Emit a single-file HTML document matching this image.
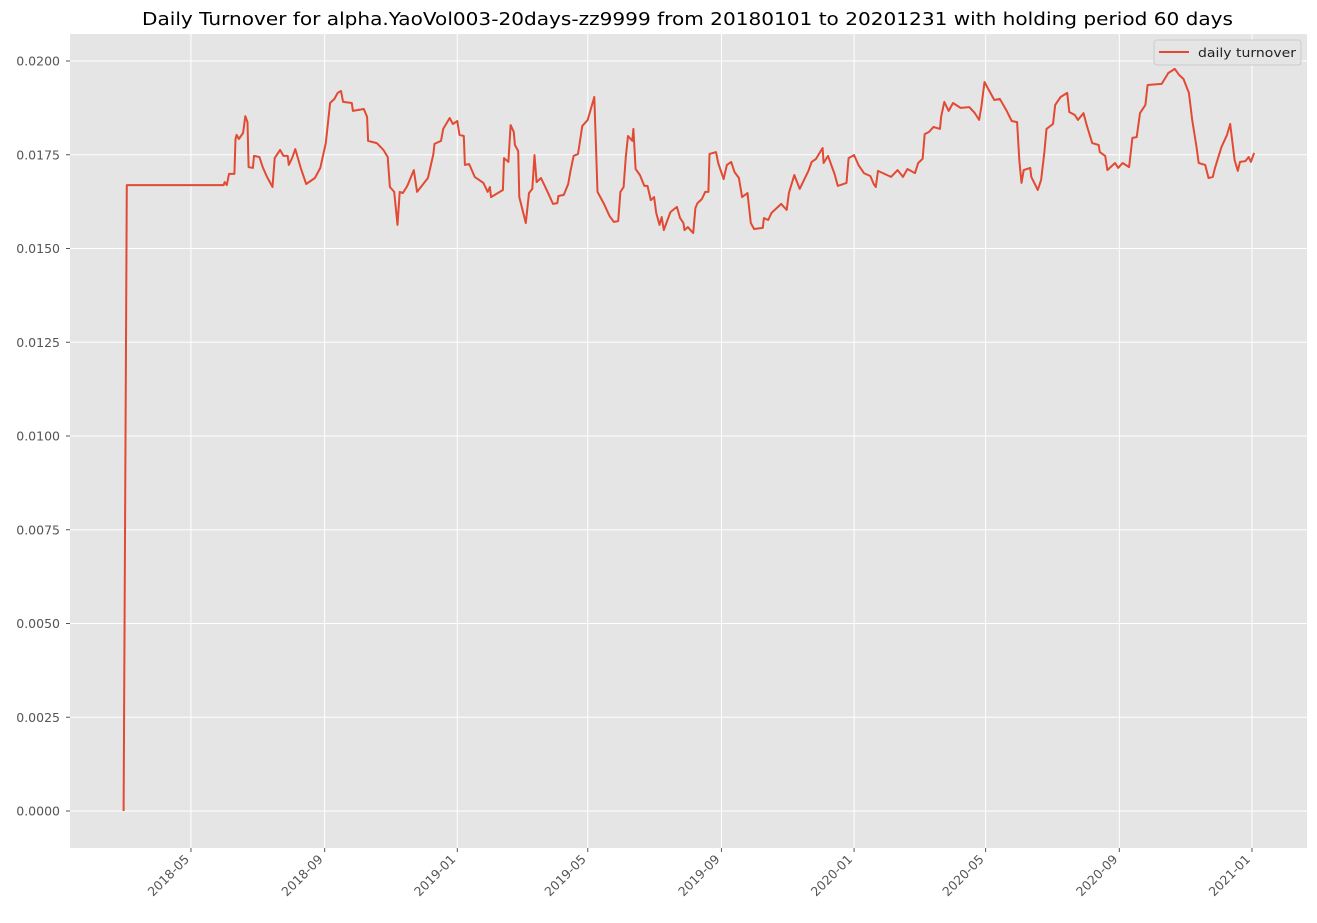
<!DOCTYPE html>
<html><head><meta charset="utf-8"><style>
body{margin:0;background:#fff;font-family:"DejaVu Sans","Liberation Sans",sans-serif}
</style></head><body>
<svg id="chart" width="1317" height="919" xmlns="http://www.w3.org/2000/svg" font-family="DejaVu Sans, Liberation Sans, sans-serif"></svg>
<script>
const yTicks=[0,0.0025,0.005,0.0075,0.01,0.0125,0.015,0.0175,0.02];
const yTickLabels=["0.0000","0.0025","0.0050","0.0075","0.0100","0.0125","0.0150","0.0175","0.0200"];
const xTickDays=[120,243,365,485,608,730,851,974,1096];
const xTickLabels=["2018-05","2018-09","2019-01","2019-05","2019-09","2020-01","2020-05","2020-09","2021-01"];
const days=[58,61,150,151,153,155,160,161,162,164,168,170,172,173,177,178,183,186,190,195,197,202,205,209,210,213,216,221,226,234,239,242,244,248,252,255,258,260,268,269,279,282,283,291,297,301,303,307,310,312,315,319,325,328,338,343,344,350,352,358,361,365,367,371,372,376,381,389,393,395,396,407,408,412,414,417,418,421,422,425,428,431,434,436,438,442,449,453,457,458,463,467,469,472,476,480,485,491,494,500,505,509,513,515,518,520,522,526,527,529,533,537,540,543,546,548,551,553,555,561,567,570,573,574,577,582,584,586,590,593,596,597,603,605,610,613,617,620,624,627,632,635,638,646,647,651,654,660,663,668,670,675,680,688,691,695,701,702,706,712,715,723,725,730,734,739,745,748,750,752,764,770,775,779,786,789,793,795,799,803,809,810,813,817,821,828,836,841,845,847,850,859,864,870,875,880,882,884,886,892,893,899,902,905,907,913,915,920,926,928,933,936,941,944,949,955,956,961,963,970,973,977,983,986,990,993,998,1000,1013,1019,1025,1029,1033,1038,1041,1045,1047,1053,1056,1060,1062,1068,1073,1076,1080,1083,1085,1090,1093,1095,1098];
const turnover=[0,.01669,.01669,.01677,.01669,.01699,.01699,.01792,.01803,.01792,.01808,.01853,.01837,.01717,.01715,.01747,.01744,.01717,.01691,.01664,.01741,.01763,.01747,.01747,.01723,.01741,.01765,.01715,.01672,.01688,.01715,.01755,.01781,.01888,.01899,.01915,.0192,.01891,.01888,.01867,.01872,.01851,.01787,.01781,.01763,.01744,.01664,.01651,.01563,.01651,.01648,.01667,.01709,.01651,.01688,.01752,.01779,.01787,.01819,.01848,.01832,.0184,.01803,.018,.01723,.01725,.01691,.01675,.01651,.01664,.01637,.01656,.01741,.01731,.01829,.01811,.01776,.0176,.01637,.01603,.01568,.01648,.01659,.01749,.01677,.01688,.01645,.01619,.01621,.0164,.01643,.01672,.01704,.01747,.01752,.01827,.01843,.01904,.01651,.01619,.01587,.01571,.01573,.01651,.01664,.01744,.018,.01787,.01819,.01712,.01696,.01667,.01667,.01629,.01637,.01595,.01563,.01584,.01549,.01597,.01611,.01581,.01568,.01549,.01557,.01541,.01608,.01621,.01632,.01651,.01651,.01752,.01757,.01728,.01685,.01723,.01731,.01704,.01688,.01637,.01648,.01568,.01552,.01555,.01581,.01576,.01595,.01611,.01619,.01603,.01648,.01696,.01659,.01707,.01731,.01739,.01768,.01728,.01747,.01699,.01667,.01675,.01741,.01749,.01723,.01701,.01693,.01672,.01664,.01707,.01691,.01709,.01691,.01712,.01701,.01728,.01739,.01805,.01811,.01824,.01819,.01851,.01891,.01867,.01888,.01875,.01877,.01861,.01843,.01877,.01944,.01896,.01899,.01869,.0184,.01837,.01736,.01675,.01709,.01715,.01691,.01656,.01683,.01755,.01819,.01832,.01883,.01904,.01915,.01864,.01856,.01843,.01861,.01829,.01781,.01776,.01757,.01747,.01709,.01728,.01715,.01728,.01717,.01795,.01797,.01861,.01883,.01936,.01939,.01968,.01979,.01963,.01952,.01915,.01843,.01771,.01728,.01723,.01688,.01691,.01715,.01771,.01803,.01832,.01736,.01707,.01731,.01733,.01744,.01731,.01755];

const NS="http://www.w3.org/2000/svg";
const svg=document.getElementById('chart');
const L=70,R=1307,T=34,B=848;
const xs=d=>60.5+d*1.0871;
const ys=v=>811-v*37500;
function mk(tag,attrs,parent){const e=document.createElementNS(NS,tag);for(const k in attrs)e.setAttribute(k,attrs[k]);(parent||svg).appendChild(e);return e;}

const bg=mk('rect',{x:L,y:T,width:R-L,height:B-T,fill:'#e5e5e5'});



yTicks.forEach((v,i)=>{
  const y=ys(v);
  const g=mk('line',{x1:L,x2:R,y1:y,y2:y,stroke:'#fff','stroke-width':1});
  
  
  mk('line',{x1:L-4,x2:L,y1:y,y2:y,stroke:'#555'});
  const t=mk('text',{x:L-10,y:y+4.5,'text-anchor':'end','font-size':12.5,fill:'#555'});
  t.textContent=yTickLabels[i];
  
  
});
xTickDays.forEach((d,i)=>{
  const x=xs(d);
  const g=mk('line',{x1:x,x2:x,y1:T,y2:B,stroke:'#fff','stroke-width':1});
  
  
  mk('line',{x1:x,x2:x,y1:B,y2:B+4,stroke:'#555'});
  const ax=x-1, ay=B+12;
  const t=mk('text',{x:ax,y:ay,'text-anchor':'end','font-size':12.5,fill:'#555',transform:`rotate(-45 ${ax} ${ay})`});
  t.textContent=xTickLabels[i];
  
  
});

let d='';
days.forEach((dd,i)=>{d+=(i?'L':'M')+xs(dd).toFixed(1)+','+ys(turnover[i]).toFixed(1);});
const line=mk('path',{d:d,fill:'none',stroke:'#e24a33','stroke-width':2,'stroke-linejoin':'round'});



const title=mk('text',{x:142,y:25,'font-size':18,fill:'#000',textLength:1091,lengthAdjust:'spacingAndGlyphs'});
title.textContent='Daily Turnover for alpha.YaoVol003-20days-zz9999 from 20180101 to 20201231 with holding period 60 days';



const lg=mk('g',{});


mk('rect',{x:1154,y:40,width:147,height:25,rx:3,fill:'#e5e5e5',stroke:'#ccc'},lg);
mk('line',{x1:1159,x2:1189,y1:52,y2:52,stroke:'#e24a33','stroke-width':2},lg);
const lt=mk('text',{x:1198,y:57,'font-size':12.5,fill:'#222',textLength:98,lengthAdjust:'spacingAndGlyphs'},lg);
lt.textContent='daily turnover';


</script>
</body></html>
